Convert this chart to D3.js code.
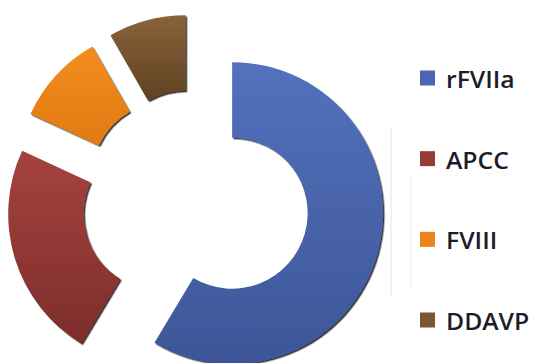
<!DOCTYPE html>
<html>
<head>
<meta charset="utf-8">
<script src="https://cdn.jsdelivr.net/npm/d3@7"></script>
<style>
  html, body { margin: 0; padding: 0; background: #ffffff; }
  svg { display: block; }
</style>
</head>
<body>
<svg id="chart" width="533" height="363"></svg>
<script>
// Treatment shares (percent of the donut)
const categories = ["rFVIIa", "APCC", "FVIII", "DDAVP"];
const values = [58.6, 23.3, 9.8, 8.3];
// Gradient stops per slice: light top, dark bottom
const topColors = ["#5371bd", "#a6433f", "#f38d1f", "#8b633a"];
const bottomColors = ["#3d5698", "#7c2d2b", "#e07a12", "#5e4224"];
const legendColors = ["#4a66b0", "#973a38", "#ec8419", "#7a5632"];

const W = 533, H = 363;
const cx = 195.5, cy = 203;
const outerR = 151, innerR = 75.5;
const explode = 38;

const svg = d3.select("#chart");
const defs = svg.append("defs");

const shadow = defs.append("filter")
  .attr("id", "sliceShadow")
  .attr("x", "-10%").attr("y", "-10%")
  .attr("width", "125%").attr("height", "125%");
shadow.append("feDropShadow")
  .attr("dx", 1.4).attr("dy", 1.4)
  .attr("stdDeviation", 0.7)
  .attr("flood-color", "#000")
  .attr("flood-opacity", 0.8);

categories.forEach((c, i) => {
  const g = defs.append("linearGradient")
    .attr("id", "grad" + i)
    .attr("x1", 0).attr("y1", 0).attr("x2", 0).attr("y2", 1);
  g.append("stop").attr("offset", "0%").attr("stop-color", topColors[i]);
  g.append("stop").attr("offset", "100%").attr("stop-color", bottomColors[i]);
});

// faint frame lines beside the legend
svg.append("line")
  .attr("x1", 391).attr("x2", 391).attr("y1", 128).attr("y2", 297)
  .attr("stroke", "#dfe4ee").attr("stroke-width", 1);
svg.append("line")
  .attr("x1", 411).attr("x2", 411).attr("y1", 177).attr("y2", 287)
  .attr("stroke", "#eceef2").attr("stroke-width", 1);

const pie = d3.pie().sort(null).value(d => d.value);
const arcs = pie(categories.map((c, i) => ({ name: c, value: values[i], i })));
const arc = d3.arc().innerRadius(innerR).outerRadius(outerR);

svg.append("g")
  .attr("transform", `translate(${cx},${cy})`)
  .selectAll("path")
  .data(arcs)
  .join("path")
  .attr("transform", d => {
    const mid = (d.startAngle + d.endAngle) / 2;
    return `translate(${Math.sin(mid) * explode},${-Math.cos(mid) * explode})`;
  })
  .attr("d", arc)
  .attr("fill", d => `url(#grad${d.data.i})`)
  .attr("filter", "url(#sliceShadow)");

// Legend
const ly = d3.scalePoint().domain(categories).range([78, 320]);
const legend = svg.append("g")
  .selectAll("g")
  .data(categories)
  .join("g")
  .attr("transform", d => `translate(420,${ly(d)})`);

legend.append("rect")
  .attr("x", 0).attr("y", -7.5)
  .attr("width", 15).attr("height", 15)
  .attr("fill", (d, i) => legendColors[i]);

legend.append("text")
  .attr("transform", "translate(26,10) scale(1.1,1)")
  .attr("font-family", "'Open Sans', sans-serif")
  .attr("font-size", 22.5)
  .attr("font-weight", 600)
  .attr("fill", "#1d1d2a")
  .text(d => d);
</script>
</body>
</html>
